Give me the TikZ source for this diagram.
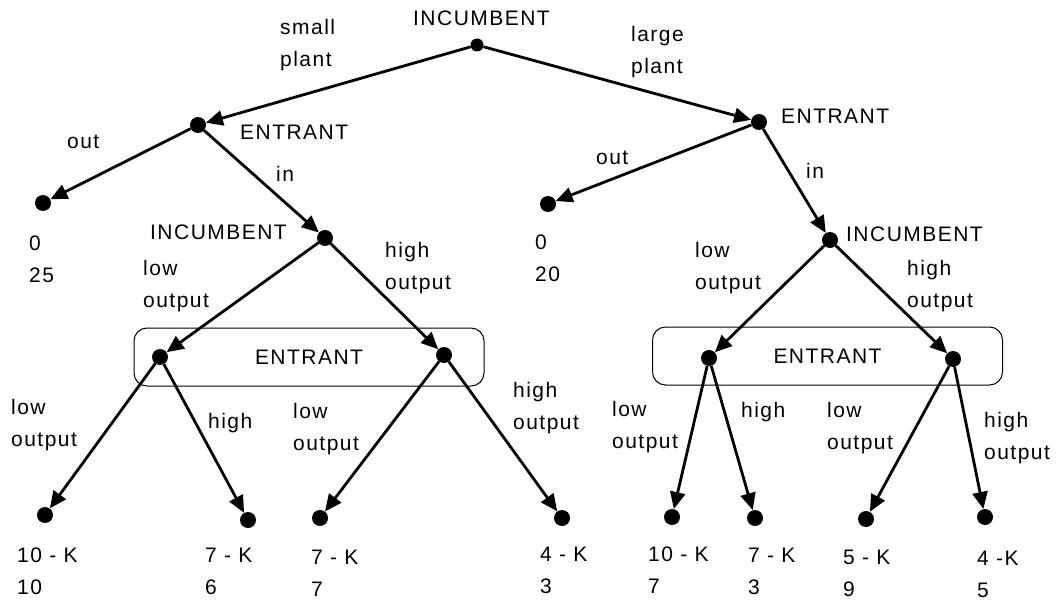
\documentclass[tikz,border=0pt]{standalone}
\usepackage{fontspec}
\setmainfont[LetterSpace=7]{Liberation Sans}
\usetikzlibrary{arrows.meta}
\begin{document}
\begin{tikzpicture}[x=1pt,y=-1pt,
  dot/.style={circle,fill=black,inner sep=0pt,minimum size=16pt},
  edge/.style={line width=2.8pt,-{Triangle[length=17pt,width=15pt]}},
  lbl/.style={anchor=base west,inner sep=0pt,align=left,font=\fontsize{21}{32}\selectfont},
  info/.style={draw,line width=1pt,rounded corners=13pt,minimum width=350pt,minimum height=58pt,inner sep=0pt,font=\fontsize{21}{24}\selectfont}]
\useasboundingbox (0,0) rectangle (1057,604);
% info sets
\node[info] (S1) at (309,357) {ENTRANT};
\node[info] (S2) at (827.5,356) {ENTRANT};
% decision nodes
\node[dot,minimum size=13pt] (I) at (477,45) {};
\node[dot] (E1) at (198,125) {};
\node[dot] (E2) at (759,122) {};
\node[dot] (L1) at (43,203) {};
\node[dot] (R1) at (548,204) {};
\node[dot] (I2) at (325,238) {};
\node[dot] (I3) at (830,240) {};
\node[dot] (A) at (160,357) {};
\node[dot] (B) at (444,355) {};
\node[dot] (C) at (709,358) {};
\node[dot] (D) at (953,359) {};
\node[dot] (a1) at (45,515) {};
\node[dot] (a2) at (248,520) {};
\node[dot] (b1) at (320,518) {};
\node[dot] (b2) at (562,518) {};
\node[dot] (c1) at (672,517) {};
\node[dot] (c2) at (755,518) {};
\node[dot] (d1) at (866,519) {};
\node[dot] (d2) at (985,517) {};
% edges
\draw[edge] (I) -- (E1);
\draw[edge] (I) -- (E2);
\draw[edge] (E1) -- (L1);
\draw[edge] (E1) -- (I2);
\draw[edge] (E2) -- (R1);
\draw[edge] (E2) -- (I3);
\draw[edge] (I2) -- (A);
\draw[edge] (I2) -- (B);
\draw[edge] (I3) -- (C);
\draw[edge] (I3) -- (D);
\draw[edge] (A) -- (a1);
\draw[edge] (A) -- (a2);
\draw[edge] (B) -- (b1);
\draw[edge] (B) -- (b2);
\draw[edge] (C) -- (c1);
\draw[edge] (C) -- (c2);
\draw[edge] (D) -- (d1);
\draw[edge] (D) -- (d2);
% labels (two-line labels are anchored at the baseline of their last line)
\node[lbl] (t0) at (413,26) {INCUMBENT};
\node[lbl] (t1) at (280,67) {small\\plant};
\node[lbl] (t2) at (631,74) {large\\plant};
\node[lbl] (t3) at (240,140) {ENTRANT};
\node[lbl] (t4) at (781,124) {ENTRANT};
\node[lbl] (t5) at (67,149) {out};
\node[lbl] (t6) at (276,182) {in};
\node[lbl] (t7) at (596,165) {out};
\node[lbl] (t8) at (806,179) {in};
\node[lbl] (t9) at (29,282) {0\\25};
\node[lbl] (t10) at (535,281) {0\\20};
\node[lbl] (t11) at (150,240) {INCUMBENT};
\node[lbl] (t12) at (846,241) {INCUMBENT};
\node[lbl] (t13) at (143,307) {low\\output};
\node[lbl] (t14) at (385,289) {high\\output};
\node[lbl] (t15) at (695,289) {low\\output};
\node[lbl] (t16) at (907,307) {high\\output};
\node[lbl] (t17) at (11,446) {low\\output};
\node[lbl] (t18) at (208,428) {high};
\node[lbl] (t19) at (293,450) {low\\output};
\node[lbl] (t20) at (513,429) {high\\output};
\node[lbl] (t21) at (612,448) {low\\output};
\node[lbl] (t22) at (741,417) {high};
\node[lbl] (t23) at (827,449) {low\\output};
\node[lbl] (t24) at (984,459) {high\\output};
\node[lbl] (p1) at (17,594) {10 - K\\10};
\node[lbl] (p2) at (205,594) {7 - K\\6};
\node[lbl] (p3) at (311,596) {7 - K\\7};
\node[lbl] (p4) at (540,593) {4 - K\\3};
\node[lbl] (p5) at (648,593) {10 - K\\7};
\node[lbl] (p6) at (748,594) {7 - K\\3};
\node[lbl] (p7) at (843,596) {5 - K\\9};
\node[lbl] (p8) at (977,597) {4 -K\\5};
\end{tikzpicture}
\end{document}
